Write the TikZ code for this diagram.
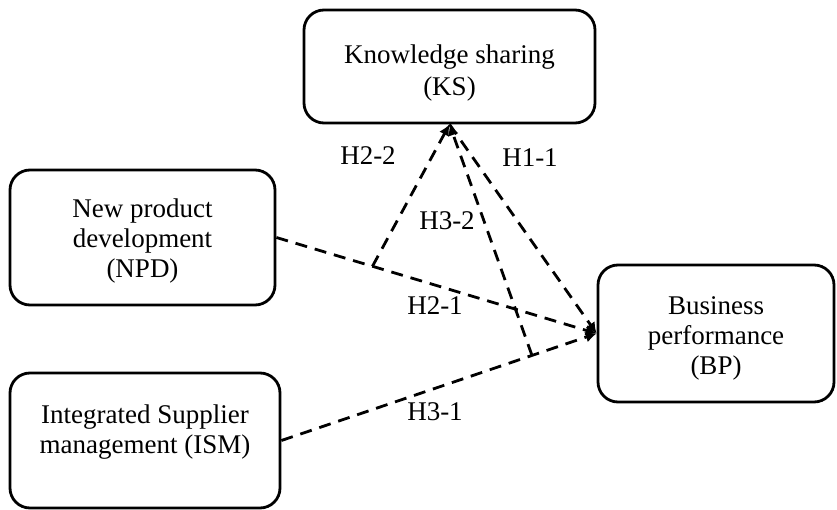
\documentclass[tikz,border=0pt]{standalone}
\usepackage{fontspec}
\setmainfont{Liberation Serif}
\usepackage{tikz}
\usetikzlibrary{positioning,arrows.meta,calc}
\newcommand{\topstrut}[1]{\rule{0pt}{#1}}

\begin{document}
\begin{tikzpicture}[
  x=1pt, y=-1pt,
  box/.style={draw, line width=2.8pt, rounded corners=20pt, align=center,
    font=\fontsize{27}{30}\selectfont, inner sep=0pt},
  arr/.style={-{Latex[length=11pt,width=11pt]}, line width=2.8pt,
    dash pattern=on 12pt off 8pt},
  lbl/.style={font=\fontsize{27}{30}\selectfont, inner sep=0pt}
]
\useasboundingbox (0,0) rectangle (837,510);
\node[box, minimum width=291pt, minimum height=113pt]
  (ks) at (449.5,66.5) {\topstrut{32pt}Knowledge sharing\\[2pt](KS)};
\node[box, minimum width=265pt, minimum height=135pt]
  (npd) at (142.5,237.5) {\topstrut{26pt}New product\\development\\(NPD)};
\node[box, minimum width=270pt, minimum height=135pt]
  (ism) at (145,440.5) {\topstrut{26pt}Integrated Supplier\\management (ISM)\\ };
\node[box, minimum width=236pt, minimum height=137pt]
  (bp) at (716,333.5) {\topstrut{28pt}Business\\performance\\(BP)};
% branch points on the direct paths
\coordinate (m2) at ($(npd.east)!0.30!(bp.west)$);
\coordinate (m3) at ($(ism.east)!0.795!(bp.west)$);
\draw[arr] (npd.east) -- (bp.west);
\draw[arr] (ism.east) -- (bp.west);
\draw[arr] (ks.south) -- (bp.west);
\draw[arr] (m2) -- (ks.south);
\draw[arr] (m3) -- (ks.south);
\node[lbl] (h22) at (368,156) {H2-2};
\node[lbl] (h11) at (530,158) {H1-1};
\node[lbl] (h32) at (447,221) {H3-2};
\node[lbl] (h21) at (435,306) {H2-1};
\node[lbl] (h31) at (435,412) {H3-1};
\end{tikzpicture}
\end{document}
